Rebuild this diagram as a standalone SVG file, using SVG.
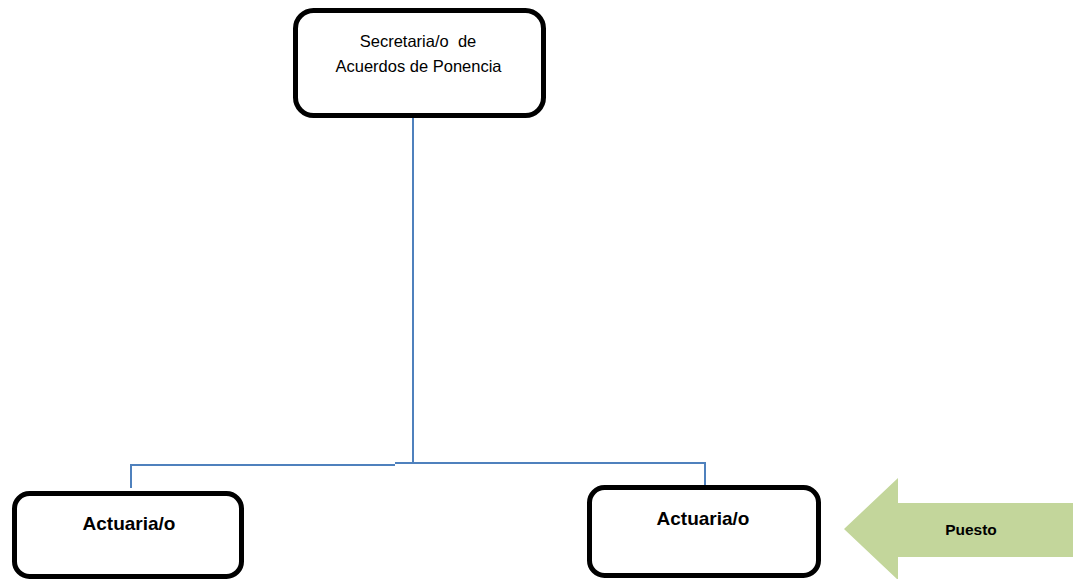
<svg xmlns="http://www.w3.org/2000/svg" width="1073" height="579" viewBox="0 0 1073 579">
<style>
.box{fill:#fff;stroke:#000;stroke-width:5}
.conn{fill:none;stroke:#4F81BD;stroke-width:2}
.t{font-family:"Liberation Sans",Arial,sans-serif;fill:#000;text-anchor:middle}
.reg{font-size:16.5px;white-space:pre}
.bold{font-size:19px;font-weight:bold}
</style>
<rect width="1073" height="579" fill="#fff"/>
<g id="connectors">
<line class="conn" x1="413" y1="116" x2="413" y2="463"/>
<polyline class="conn" points="131,488 131,465 395,465"/>
<polyline class="conn" points="395,463 705,463 705,486"/>
</g>
<g id="node-secretaria">
<rect class="box" x="295.5" y="10.5" width="248" height="105" rx="18"/>
<text class="t reg" x="418" y="47" xml:space="preserve">Secretaria/o  de</text>
<text class="t reg" x="418.5" y="72">Acuerdos de Ponencia</text>
</g>
<g id="node-actuaria-1">
<rect class="box" x="14.5" y="493.5" width="227" height="83" rx="15"/>
<text class="t bold" x="129" y="530">Actuaria/o</text>
</g>
<g id="node-actuaria-2">
<rect class="box" x="589.5" y="487.5" width="229" height="88" rx="15"/>
<text class="t bold" x="703" y="525">Actuaria/o</text>
</g>
<g id="node-puesto">
<polygon points="844,529 898,478 898,503 1073,503 1073,557 898,557 898,580" fill="#C3D69B"/>
<text class="t" x="971" y="535" style="font-size:15.5px;font-weight:bold">Puesto</text>
</g>
</svg>
